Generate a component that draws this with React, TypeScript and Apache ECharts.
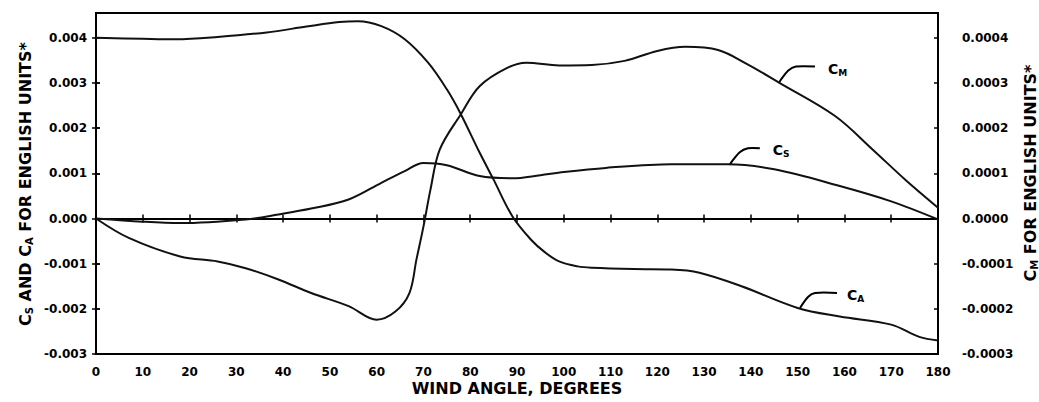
import React, { useEffect, useRef } from "react";
import * as echarts from "echarts";

const FONT = '"DejaVu Sans", "Liberation Sans", Arial, sans-serif';

// Wind angle ticks
const xTickValues = [0, 10, 20, 30, 40, 50, 60, 70, 80, 90, 100, 110, 120, 130, 140, 150, 160, 170, 180];
const xTickLabels = ["0", "10", "20", "30", "40", "50", "60", "70", "80", "90", "100", "110", "120", "130", "140", "150", "160", "170", "180"];

// Left axis (C_S and C_A)
const leftTickValues = [-0.003, -0.002, -0.001, 0, 0.001, 0.002, 0.003, 0.004];
const leftTickLabels = ["-0.003", "-0.002", "-0.001", "0.000", "0.001", "0.002", "0.003", "0.004"];
// Right axis (C_M)
const rightTickValues = [-0.0003, -0.0002, -0.0001, 0, 0.0001, 0.0002, 0.0003, 0.0004];
const rightTickLabels = ["-0.0003", "-0.0002", "-0.0001", "0.0000", "0.0001", "0.0002", "0.0003", "0.0004"];

// C_M (right axis)
const cmAngles = [0, 7, 18, 26, 32, 39, 46, 54, 60, 64, 67, 68.5, 70, 71.5, 73.5, 78, 82, 88, 92, 99, 106, 113, 120, 126, 133, 139, 146, 158, 166, 173, 180];
const cmValues = [0, -0.000043, -0.000084, -0.000095, -0.00011, -0.000135, -0.000165, -0.000194, -0.000224, -0.000206, -0.000165, -0.000091, -0.000018, 0.000064, 0.000153, 0.000231, 0.000293, 0.000334, 0.000345, 0.000339, 0.00034, 0.000349, 0.000371, 0.00038, 0.000373, 0.000343, 0.000301, 0.000227, 0.000153, 0.000086, 0.000024];

// C_S (left axis)
const csAngles = [0, 10, 18, 32, 39, 46, 54, 61, 66, 70, 75, 82, 89, 95, 100, 109, 123, 135, 145, 159, 170, 180];
const csValues = [0, -0.00007, -0.0001, -0.00002, 0.00009, 0.00022, 0.00042, 0.00079, 0.00105, 0.00123, 0.00118, 0.00094, 0.00089, 0.00096, 0.00103, 0.00112, 0.0012, 0.0012, 0.00109, 0.00072, 0.00038, -0.00002];

// C_A (left axis)
const caAngles = [0, 10, 17, 26, 36.5, 45, 52, 56, 61, 66, 71, 75, 78, 82, 85, 89, 93, 96, 99, 103, 106, 115, 123, 129, 138, 150, 159, 170, 176, 180];
const caValues = [0.004, 0.00398, 0.00397, 0.00402, 0.00412, 0.00425, 0.00435, 0.00437, 0.00426, 0.00397, 0.00345, 0.00286, 0.00231, 0.00146, 0.00086, 0.00005, -0.00047, -0.00075, -0.00095, -0.00106, -0.00109, -0.00112, -0.00113, -0.0012, -0.0015, -0.00198, -0.00217, -0.00235, -0.00262, -0.0027];

// Curve labels: main letter, subscript, anchor angle/value on curve, y axis index
const curveLabelMain = ["C", "C", "C"];
const curveLabelSub = ["M", "S", "A"];
const curveLabelAngle = [146, 135.5, 150.5];
const curveLabelValue = [0.000301, 0.0012, -0.00198];
const curveLabelAxis = [1, 0, 0];

function pickLabel(values: number[], labels: string[], v: number) {
  let best = 0;
  let bd = Infinity;
  values.forEach((t, i) => {
    const d = Math.abs(t - v);
    if (d < bd) {
      bd = d;
      best = i;
    }
  });
  return labels[best];
}

const labelStyle = {
  color: "#000",
  fontSize: 12,
  fontWeight: "bold" as const,
  fontFamily: FONT,
};

const lineSeries = (name: string, xs: number[], ys: number[], yAxisIndex: number) => ({
  name,
  type: "line",
  yAxisIndex,
  xAxisIndex: 0,
  showSymbol: false,
  smooth: 0.35,
  lineStyle: { color: "#111", width: 2 },
  data: xs.map((x, i) => [x, ys[i]]),
});

export default function App() {
  const ref = useRef<HTMLDivElement>(null);

  useEffect(() => {
    document.body.style.margin = "0";
    if (!ref.current) return;
    const chart = echarts.init(ref.current, undefined, { renderer: "svg" });

    const yBase = (pos: "left" | "right", min: number, max: number, vals: number[], labels: string[], showLabels: boolean, inside: boolean, margin: number) => ({
      type: "value",
      position: pos,
      min,
      max,
      axisLine: { show: true, lineStyle: { color: "#000", width: 2 } },
      axisTick: { show: true, inside, length: 4, customValues: vals, lineStyle: { color: "#000", width: 1.5 } },
      splitLine: { show: false },
      axisLabel: {
        show: showLabels,
        customValues: vals,
        margin,
        ...labelStyle,
        formatter: (v: number) => pickLabel(vals, labels, v),
      },
    });

    const xBase = (showLabels: boolean, inside: boolean) => ({
      type: "value",
      position: "bottom",
      min: 0,
      max: 180,
      axisLine: { show: true, lineStyle: { color: "#000", width: 2 } },
      axisTick: { show: true, inside, length: 4, customValues: xTickValues, lineStyle: { color: "#000", width: 1.5 } },
      splitLine: { show: false },
      axisLabel: {
        show: showLabels,
        customValues: xTickValues,
        margin: 12,
        ...labelStyle,
        formatter: (v: number) => pickLabel(xTickValues, xTickLabels, v),
      },
    });

    chart.setOption({
      animation: false,
      backgroundColor: "#fff",
      grid: { left: 96, right: 101, top: 13, bottom: 48, show: true, borderColor: "#000", borderWidth: 2, containLabel: false },
      xAxis: [xBase(true, false), xBase(false, true)],
      yAxis: [
        yBase("left", -0.003, 0.00455, leftTickValues, leftTickLabels, true, false, 9),
        yBase("right", -0.0003, 0.000455, rightTickValues, rightTickLabels, true, false, 24),
        yBase("left", -0.003, 0.00455, leftTickValues, leftTickLabels, false, true, 9),
        yBase("right", -0.0003, 0.000455, rightTickValues, rightTickLabels, false, true, 24),
      ],
      series: [
        lineSeries("C_M", cmAngles, cmValues, 1),
        lineSeries("C_S", csAngles, csValues, 0),
        lineSeries("C_A", caAngles, caValues, 0),
      ],
    });

    const rich = (size: number) => ({
      b: { fontSize: size, fontWeight: "bold", fontFamily: FONT, fill: "#000", lineHeight: size + 3 },
      s: { fontSize: Math.round(size * 0.62), fontWeight: "bold", fontFamily: FONT, fill: "#000", lineHeight: Math.round(size * 0.62), verticalAlign: "bottom" },
    });

    const offsets = [
      { dx1: 17, dy: -16, dx2: 36, tx: 49 },
      { dx1: 18, dy: -16, dx2: 30, tx: 43 },
      { dx1: 15, dy: -15, dx2: 37, tx: 47 },
    ];

    const elements: any[] = [];
    curveLabelMain.forEach((m, i) => {
      const p = chart.convertToPixel({ xAxisIndex: 0, yAxisIndex: curveLabelAxis[i] }, [curveLabelAngle[i], curveLabelValue[i]]) as number[];
      const o = offsets[i];
      elements.push({
        type: "polyline",
        shape: { points: [[p[0], p[1]], [p[0] + o.dx1 * 0.55, p[1] + o.dy * 0.75], [p[0] + o.dx1, p[1] + o.dy], [p[0] + o.dx2, p[1] + o.dy]], smooth: 0.3 },
        style: { stroke: "#000", lineWidth: 2, fill: null },
        silent: true,
      });
      elements.push({
        type: "text",
        x: p[0] + o.tx,
        y: p[1] + o.dy + 2,
        style: { text: `{b|${m}}{s|${curveLabelSub[i]}}`, rich: rich(14), align: "left", verticalAlign: "middle" },
        silent: true,
      });
    });

    elements.push({
      type: "text",
      x: 25,
      y: 184,
      rotation: Math.PI / 2,
      style: { text: "{b|C}{s|S}{b| AND C}{s|A}{b| FOR ENGLISH UNITS*}", rich: rich(16), align: "center", verticalAlign: "middle" },
      silent: true,
    });
    elements.push({
      type: "text",
      x: 1030,
      y: 173,
      rotation: Math.PI / 2,
      style: { text: "{b|C}{s|M}{b| FOR ENGLISH UNITS*}", rich: rich(16), align: "center", verticalAlign: "middle" },
      silent: true,
    });
    elements.push({
      type: "text",
      x: 517,
      y: 388,
      style: { text: "WIND ANGLE, DEGREES", fontSize: 16, fontWeight: "bold", fontFamily: FONT, fill: "#000", align: "center", verticalAlign: "middle" },
      silent: true,
    });

    chart.setOption({ graphic: { elements } });

    return () => {
      chart.dispose();
    };
  }, []);

  return <div ref={ref} style={{ width: 1039, height: 402 }} />;
}
